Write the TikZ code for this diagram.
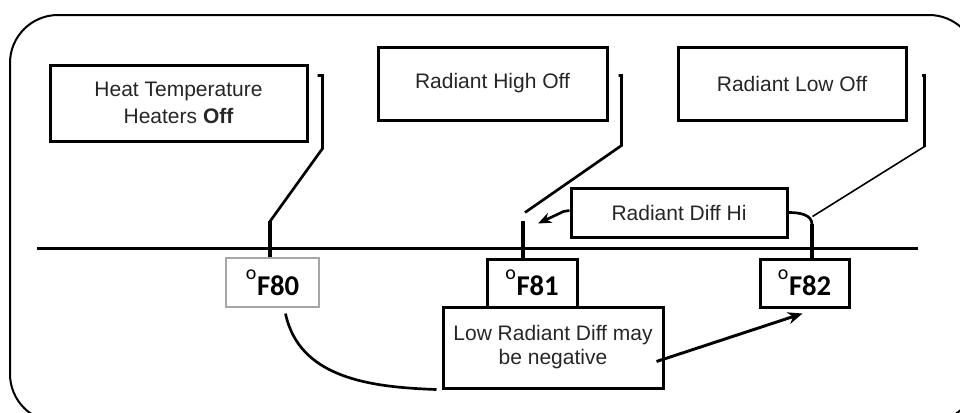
\documentclass[tikz,border=0pt]{standalone}
\usepackage{fontspec}
\setmainfont{Liberation Sans}
\newfontfamily\calibri{Carlito}
\usetikzlibrary{arrows.meta,calc,positioning}

\newcommand{\degF}[1]{\raisebox{1.15ex}{\mdseries\fontsize{15}{15}\selectfont o}\kern0.5pt F#1}

\begin{document}
\begin{tikzpicture}[
	x=0.75pt, y=-0.75pt,
	>={Stealth[length=10pt,width=8pt]},
	note/.style={
		rectangle,
		draw,
		line width=2.25pt,
		align=center,
		inner sep=0pt,
		text=black!85,
		font=\fontsize{15.75}{18}\selectfont
	},
	temp/.style={
		rectangle,
		draw,
		line width=2.25pt,
		inner sep=0pt,
		minimum width=67.5pt,
		minimum height=36pt,
		font=\calibri\fontsize{21.5}{24}\selectfont\bfseries
	},
	lead/.style={draw, line width=2pt},
	tick/.style={draw, line width=3.5pt},
	thinlead/.style={draw, line width=1.2pt}
	]
	
	\useasboundingbox (0,0) rectangle (960,412);
	
	% Outer frame
	\draw[line width=1.5pt, rounded corners=36pt] (10,15) rectangle (977,422);
	
	% Set point boxes
	\node[note, minimum width=192.75pt, minimum height=57pt] (heat) at (178.5,103) {Heat Temperature\\[2pt]Heaters \textbf{Off}};
	\node[note, minimum width=171.75pt, minimum height=54.75pt] (high) at (492.5,83.5) {Radiant High Off};
	\node[note, minimum width=171pt, minimum height=54.75pt] (low) at (792,83.5) {Radiant Low Off};
	\node[note, minimum width=162pt, minimum height=36.75pt] (diffhi) at (679,212.5) {Radiant Diff Hi};
	
	% Temperature axis
	\coordinate (axis-l) at (37,248);
	\coordinate (axis-r) at (918,248);
	\draw[line width=2.25pt] (axis-l) -- (axis-r);
	
	% Temperature boxes
	\node[temp, draw=gray!70, line width=0.9pt, minimum width=69.75pt, minimum height=36.75pt] (f80) at (272.5,282.5) {\degF{80}};
	\node[temp] (f81) at (532,283) {\degF{81}};
	\node[temp, minimum width=66.75pt] (f82) at (804.5,283) {\degF{82}};
	\node[note, minimum width=165pt, minimum height=60.75pt] (lowdiff) at (553,347.5) {Low Radiant Diff may\\be negative};
	
	% Leaders to the axis
	\path[lead] ($(heat.north east)+(9,12)$) -- ++(5,0) -- ++(0,73) -- ($(f80.north)+(-2.5,-36)$);
	\path[tick] ($(f80.north)+(-2.5,-36)$) -- ++(0,36);
	
	\path[lead] ($(high.north east)+(10,30)$) -- ++(3,0) -- ++(0,70) -- ($(f81.north)+(-7,-45)$);
	\path[tick] ($(f81.north)+(-9,-37)$) -- ++(0,37);
	
	\path[lead] ($(low.north east)+(14,30)$) -- ++(3,0) -- ++(0,71) coordinate (low-bend);
	\path[thinlead] (low-bend) -- ($(f82.north)+(8,-41)$);
	
	\path[lead] (diffhi.east) to[out=0,in=90] ($(f82.north)+(7.5,-33)$);
	\path[tick] ($(f82.north)+(7.5,-34)$) -- ++(0,34);
	
	% Arrows
	\draw[lead, ->] ($(diffhi.west)+(0,-2)$) -- ++(-6,1) -- ($(f81.north)+(6,-34)$);
	\path[lead] ($(f80.south)+(13,6)$) to[out=-78,in=178] ($(lowdiff.south west)+(-5,0)$);
	\draw[lead, line width=2.2pt, ->, >={Stealth[length=11pt,width=9pt]}] ($(lowdiff.east)+(-8,14)$) -- ($(f82.south)+(-2,5)$);
	
\end{tikzpicture}
\end{document}
